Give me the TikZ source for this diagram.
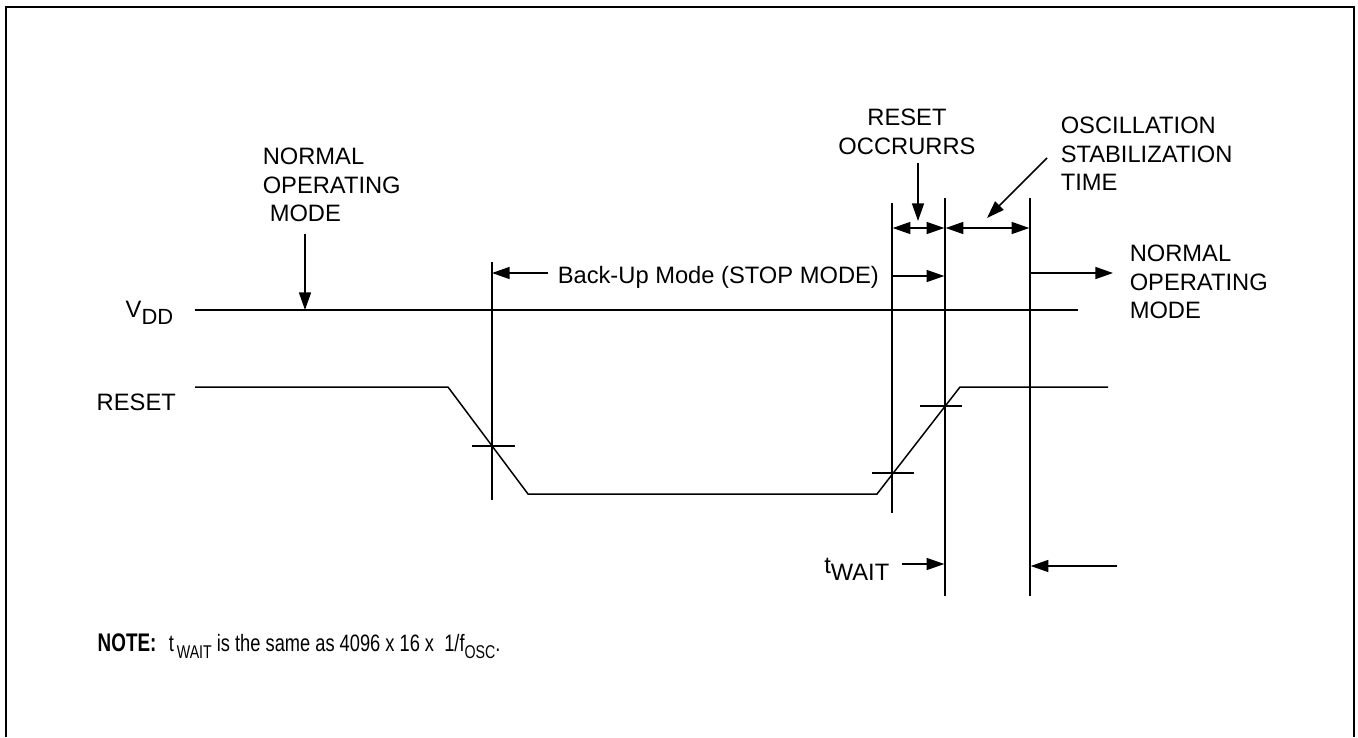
\documentclass[tikz,border=0pt]{standalone}
\usepackage{fontspec}
\setmainfont{Liberation Sans}
\usepackage{graphicx}
\usetikzlibrary{arrows.meta}

\tikzset{
  sig/.style={inner sep=0pt, font=\fontsize{13.5}{16.4}\selectfont, align=left},
  tick/.style={line width=0.85pt},
  frame/.style={line width=1.1pt}
}

\begin{document}
\begin{tikzpicture}[x=0.02cm,y=-0.02cm,line width=0.85pt,>={Triangle[length=10pt,width=6.8pt]}]
  \useasboundingbox (0,0) rectangle (1358,737);
  \draw[frame] (6,737) -- (6,7) -- (1354,7) -- (1354,737);

  % signal names
  \node[sig,anchor=north east] (vdd) at (174,300) {V\raisebox{-4pt}{\fontsize{12.5}{12}\selectfont DD}};
  \node[sig,anchor=north west] (rst) at (96,393) {RESET};

  % time markers
  \coordinate (stopT) at (492,262);  \coordinate (stopB) at (492,500);
  \coordinate (rstT)  at (892,203);  \coordinate (rstB)  at (892,513);
  \coordinate (waitT) at (945,198);  \coordinate (waitB) at (945,596);
  \coordinate (runT)  at (1030,198); \coordinate (runB)  at (1030,596);
  \draw (stopT) -- (stopB) (rstT) -- (rstB) (waitT) -- (waitB) (runT) -- (runB);

  % VDD
  \coordinate (vddL) at (195,310); \coordinate (vddR) at (1078,310);
  \draw (vddL) -- (vddR);

  % RESET wave
  \coordinate (r0) at (195,387);  \coordinate (r1) at (448,387);
  \coordinate (r2) at (528,494);  \coordinate (r3) at (877,494);
  \coordinate (r4) at (960,387);  \coordinate (r5) at (1108,387);
  \draw (r0) -- (r1) -- (r2) -- (r3) -- (r4) -- (r5);
  \draw[tick] (472,446) -- (515,446);
  \draw[tick] (872,473) -- (914,473);
  \draw[tick] (920,406) -- (962,406);

  % labels
  \node[sig,anchor=north west] (normL) at (262,147) {NORMAL\\OPERATING\\\hspace*{4pt}MODE};
  \node[sig,anchor=north,align=center] (occ) at (907,108) {RESET\\OCCRURRS};
  \node[sig,anchor=north west] (osc) at (1060,116) {OSCILLATION\\STABILIZATION\\TIME};
  \node[sig,anchor=north west] (normR) at (1129,244) {NORMAL\\OPERATING\\MODE};
  \node[sig,anchor=base west] (stop) at (557,283) {Back-Up Mode (STOP MODE)};
  \node[sig,anchor=north east] (twait) at (890,557) {t\raisebox{-4pt}{WAIT}};

  % arrows
  \coordinate (dimY) at (0,228);
  \coordinate (spanY) at (0,273);
  \coordinate (a1) at (305,234);
  \draw[->] (a1) -- (a1 |- vddL);
  \draw[<->,shorten <=0.4pt,shorten >=0.4pt] (rstT |- dimY) -- (waitT |- dimY);
  \draw[<->,shorten <=0.4pt,shorten >=0.4pt] (waitT |- dimY) -- (runT |- dimY);
  \coordinate (bu) at (548,273);
  \draw[->] (bu) -- (bu -| stopT);
  \coordinate (wk) at (892,276);
  \draw[->,shorten >=0.4pt] (wk) -- (wk -| waitT);
  \coordinate (goR) at (1113,273);
  \draw[->] (runT |- spanY) -- (goR);
  \coordinate (occA) at (918,163); \coordinate (occB) at (918,221);
  \draw[->] (occA) -- (occB);
  \coordinate (oscA) at (1047,158); \coordinate (oscB) at (987,218);
  \draw[->] (oscA) -- (oscB);
  \coordinate (twA) at (902,564);
  \draw[->,shorten >=0.4pt] (twA) -- (twA -| waitB);
  \coordinate (twB) at (1117,566);
  \draw[->,shorten >=0.4pt] (twB) -- (twB -| runB);

  % note
  \node[inner sep=0pt,anchor=base west] (noteH) at (97,651)
    {\scalebox{0.74}[1]{\fontsize{14.5}{14}\selectfont\bfseries NOTE:}};
  \node[inner sep=0pt,anchor=base west] (noteT) at (168,651)
    {\scalebox{0.77}[1]{\fontsize{13.5}{13}\selectfont t\,\raisebox{-4pt}{\fontsize{10.5}{10}\selectfont WAIT} is the same as 4096 x 16 x\ \ 1/f\raisebox{-4pt}{\fontsize{10.5}{10}\selectfont OSC}.}};
\end{tikzpicture}
\end{document}
